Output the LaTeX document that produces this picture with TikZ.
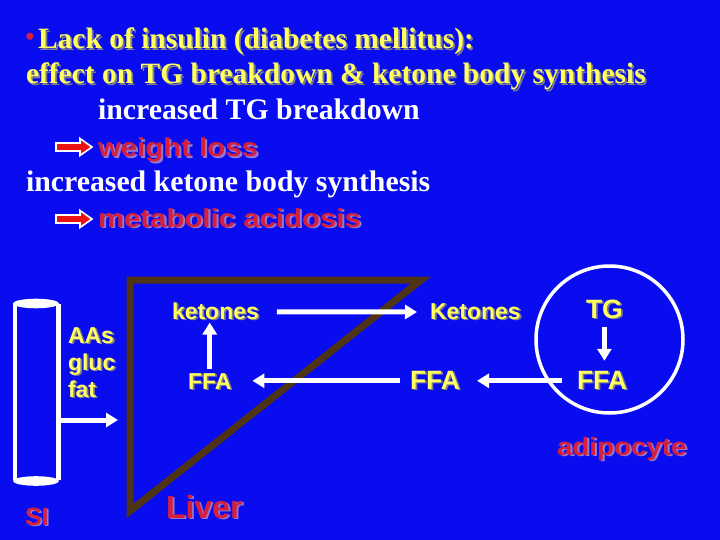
\documentclass[tikz,border=0pt]{standalone}
\usepackage{fontspec}
\setmainfont{Liberation Serif}
\newfontfamily\arial{Liberation Sans}
\usetikzlibrary{arrows.meta,calc}
\definecolor{bg}{RGB}{8,12,238}
\definecolor{ylw}{RGB}{255,255,95}
\definecolor{ylwsh}{RGB}{125,125,140}
\definecolor{rd}{RGB}{212,32,62}
\definecolor{rdsh}{RGB}{150,120,205}
\definecolor{arrred}{RGB}{235,20,20}
\definecolor{liverbrown}{RGB}{78,52,20}
\newcommand{\shtxt}[2]{\makebox[0pt][l]{\hspace{1.8pt}\raisebox{-1.8pt}{\color{#1}#2}}#2}
\begin{document}
\begin{tikzpicture}[x=1pt,y=-1pt,
  every node/.style={inner sep=0pt, outer sep=0pt, anchor=base west},
  title/.style={text=ylw, font=\bfseries\fontsize{29.5}{30}\selectfont},
  plain/.style={text=white, font=\bfseries\fontsize{29.8}{30}\selectfont},
  redtxt/.style={text=rd, font=\arial\bfseries\fontsize{26}{28}\selectfont, xscale=1.13},
  lbl/.style={text=ylw, font=\arial\bfseries\fontsize{23}{27}\selectfont},
  biglbl/.style={text=ylw, font=\arial\bfseries\fontsize{26.5}{28}\selectfont},
  warrow/.style={draw=white, line width=5pt, -{Triangle[length=12pt,width=14pt]}},
  redarrow/.style={draw=white, line width=1.6pt, fill=arrred, line join=miter}
]
\fill[bg] (0,0) rectangle (720,540);
\useasboundingbox (0,0) rectangle (720,540);

% heading
\node[text=rd, font=\fontsize{29.5}{30}\selectfont, anchor=base] (bul) at (30,47) {•};
\node[title] (t1) at (38,49) {\shtxt{ylwsh}{Lack of insulin (diabetes mellitus):}};
\node[title] (t2) at (26,84) {\shtxt{ylwsh}{effect on TG breakdown \& ketone body synthesis}};
\node[plain] (t3) at (98,120) {increased TG breakdown};
\coordinate (a1) at (56,147);
\draw[redarrow] (a1) ++(0,-4) -- ++(24,0) -- ++(0,-4.5) -- ++(12,8.5) -- ++(-12,8.5) -- ++(0,-4.5) -- ++(-24,0) -- cycle;
\node[redtxt] (t4) at (98,157) {\shtxt{rdsh}{weight loss}};
\node[plain] (t5) at (26,192) {increased ketone body synthesis};
\coordinate (a2) at (56,219);
\draw[redarrow] (a2) ++(0,-4) -- ++(24,0) -- ++(0,-4.5) -- ++(12,8.5) -- ++(-12,8.5) -- ++(0,-4.5) -- ++(-24,0) -- cycle;
\node[redtxt] (t6) at (98,227) {\shtxt{rdsh}{metabolic acidosis}};

% small intestine
\draw[white, line width=4.5pt] (15,304) -- (15,480);
\draw[white, line width=4.5pt] (58.5,304) -- (58.5,480);
\fill[white] (36,303.5) ellipse [x radius=23, y radius=4.8];
\fill[white] (36,481) ellipse [x radius=23, y radius=4.8];
\node[text=rd, font=\arial\bfseries\fontsize{25}{27}\selectfont] (si) at (25,525) {\shtxt{rdsh}{SI}};
\node[lbl] (aas) at (68,343) {\shtxt{ylwsh}{AAs}};
\node[lbl] (gluc) at (68,370) {\shtxt{ylwsh}{gluc}};
\node[lbl] (fat) at (68,397) {\shtxt{ylwsh}{fat}};
\coordinate (sir) at (61,420);
\coordinate (livl) at (118,420);
\draw[warrow] (sir) -- (livl);

% liver
\draw[liverbrown, line width=7pt] (130,280) -- (421,280) -- (130,511) -- cycle;
\node[text=rd, font=\arial\bfseries\fontsize{32}{34}\selectfont] (liver) at (166,518) {\shtxt{rdsh}{Liver}};
\node[lbl] (kl) at (172,319) {\shtxt{ylwsh}{ketones}};
\node[lbl] (fl) at (188,389) {\shtxt{ylwsh}{FFA}};
\node[lbl] (KR) at (430,319) {\shtxt{ylwsh}{Ketones}};
\node[biglbl] (fr) at (410,389) {\shtxt{ylwsh}{FFA}};

% adipocyte
\node[circle, draw=white, line width=3.5pt, minimum size=147pt, anchor=center] (adip) at (609.5,339.5) {};
\node[biglbl] (tg) at (586,318) {\shtxt{ylwsh}{TG}};
\node[biglbl] (fa) at (577,389) {\shtxt{ylwsh}{FFA}};
\node[text=rd, font=\arial\bfseries\fontsize{25}{27}\selectfont, xscale=1.11] (adl) at (557,455) {\shtxt{rdsh}{adipocyte}};

% connectors
\draw[warrow, shorten <=18pt, shorten >=13pt] (kl) -- (KR);
\draw[warrow, shorten <=10pt, shorten >=21pt] (fr.west) -- (fr.west -| fl.east);
\draw[warrow, shorten <=15pt, shorten >=17pt] (fa.west) -- (fr.east);
\draw[warrow, shorten <=4.5pt, shorten >=1.5pt] (fl.north) -- (fl.north |- kl.south);
\draw[warrow, shorten <=7pt, shorten >=10pt] (tg.south) -- (tg.south |- fa.north);
\end{tikzpicture}
\end{document}
